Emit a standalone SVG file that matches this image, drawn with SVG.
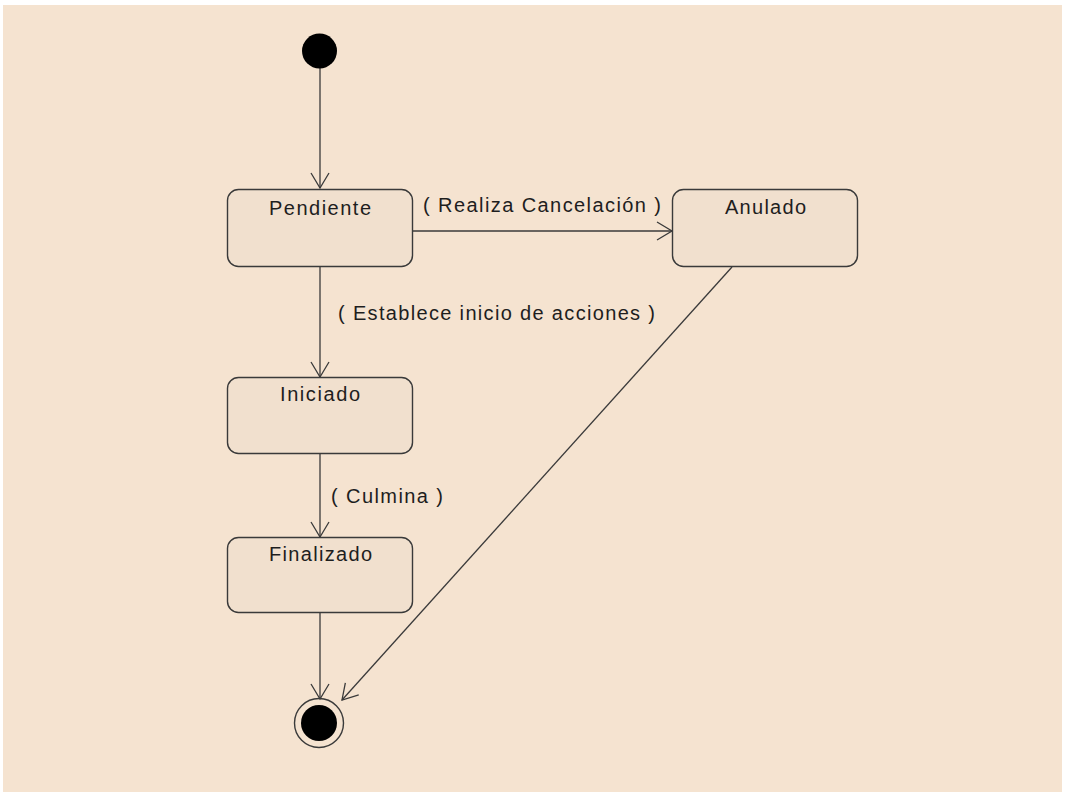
<svg xmlns="http://www.w3.org/2000/svg" width="1065" height="797" viewBox="0 0 1065 797">
<defs>
<style>
.bg{fill:#F5E3D0}
.state rect{fill:#F1E0CE;stroke:#3a3a3a;stroke-width:1.4}
text{font-family:"Liberation Sans",Arial,sans-serif;font-size:20px;fill:#1e1e1e}
.conn line{stroke:#3a3a3a;stroke-width:1.3;fill:none}
</style>
<marker id="arr" markerUnits="userSpaceOnUse" markerWidth="30" markerHeight="30" viewBox="-20 -15 25 30" refX="0" refY="0" orient="auto">
<path d="M-15,-9 L0,0 L-15,9" fill="none" stroke="#3a3a3a" stroke-width="1.3"/>
</marker>
</defs>
<rect x="0" y="0" width="1065" height="797" fill="#ffffff"/>
<rect class="bg" x="3" y="5" width="1059" height="787"/>

<g id="conns" class="conn">
<line x1="320" y1="68" x2="320" y2="188" marker-end="url(#arr)"/>
<line x1="413" y1="231" x2="672" y2="231" marker-end="url(#arr)"/>
<line x1="320" y1="267" x2="320" y2="377" marker-end="url(#arr)"/>
<line x1="320" y1="453" x2="320" y2="537" marker-end="url(#arr)"/>
<line x1="320" y1="612" x2="320" y2="699" marker-end="url(#arr)"/>
<line x1="732" y1="267" x2="342" y2="700" marker-end="url(#arr)"/>
<text x="423" y="212" textLength="238" lengthAdjust="spacing">( Realiza Cancelación )</text>
<text x="338" y="320" textLength="317" lengthAdjust="spacing">( Establece inicio de acciones )</text>
<text x="331" y="503" textLength="112" lengthAdjust="spacing">( Culmina )</text>
</g>

<g id="initial">
<circle cx="319.5" cy="51" r="17.5" fill="#000"/>
</g>

<g id="pendiente" class="state">
<rect x="227.5" y="189.5" width="185" height="77" rx="11"/>
<text x="269" y="215" textLength="102" lengthAdjust="spacing">Pendiente</text>
</g>

<g id="anulado" class="state">
<rect x="672.5" y="189.5" width="185" height="77" rx="11"/>
<text x="725" y="214" textLength="81" lengthAdjust="spacing">Anulado</text>
</g>

<g id="iniciado" class="state">
<rect x="227.5" y="377.5" width="185" height="76" rx="11"/>
<text x="280" y="401" textLength="80" lengthAdjust="spacing">Iniciado</text>
</g>

<g id="finalizado" class="state">
<rect x="227.5" y="537.5" width="185" height="75" rx="11"/>
<text x="269" y="561" textLength="103" lengthAdjust="spacing">Finalizado</text>
</g>

<g id="final">
<circle cx="319" cy="723" r="24.5" fill="none" stroke="#3a3a3a" stroke-width="1.4"/>
<circle cx="319" cy="723" r="18" fill="#000"/>
</g>
</svg>
